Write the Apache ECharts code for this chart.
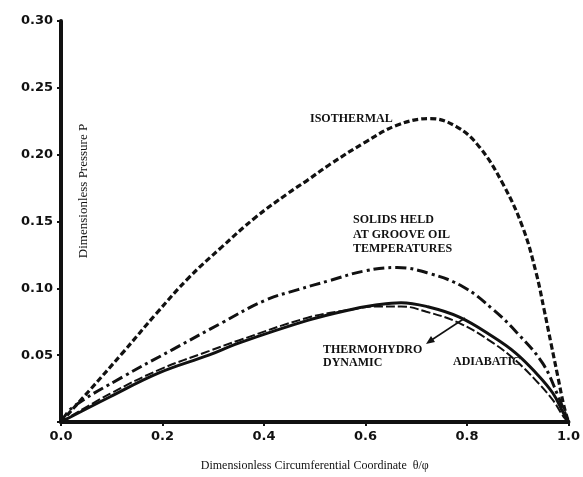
<!DOCTYPE html>
<html lang="en">

<head>
    <meta http-equiv="content-type" content="txt/html; charset=utf-8"/>
    <title>Dimensionless Pressure</title>
    <script src="https://cdn.jsdelivr.net/npm/echarts@6.0.0/dist/echarts.min.js"></script>
    <style>
        html, body {
            height: 100%;
            margin: 0;
            background: #fff;
        }

        .chart {
            width: 583px;
            height: 477px;
        }
    </style>
</head>

<body>
<div class="chart"></div>
<script>
    // curves: [theta/phi, P]
    const isothermal = [[0, 0], [0.057, 0.024], [0.121, 0.0515], [0.1875, 0.081], [0.252, 0.108], [0.316, 0.1306],
        [0.383, 0.153], [0.447, 0.171], [0.486, 0.181], [0.531, 0.193], [0.598, 0.209], [0.662, 0.222],
        [0.727, 0.227], [0.779, 0.221], [0.824, 0.206], [0.871, 0.178], [0.910, 0.1455], [0.936, 0.112],
        [0.952, 0.084], [0.966, 0.058], [0.979, 0.034], [0.991, 0.012], [1, 0]];
    const solidsHeld = [[0, 0], [0.023, 0.011], [0.121, 0.0336], [0.219, 0.054], [0.316, 0.074], [0.402, 0.091],
        [0.467, 0.099], [0.531, 0.106], [0.598, 0.113], [0.662, 0.1156], [0.727, 0.111], [0.793, 0.101],
        [0.852, 0.084], [0.898, 0.067], [0.949, 0.044], [0.98, 0.019], [1, 0]];
    const thermohydro = [[0, 0], [0.096, 0.0187], [0.193, 0.0367], [0.291, 0.050], [0.35, 0.059], [0.486, 0.076],
        [0.57, 0.084], [0.62, 0.0875], [0.67, 0.0893], [0.72, 0.0865], [0.785, 0.0785], [0.852, 0.0636],
        [0.896, 0.0516], [0.936, 0.0367], [0.969, 0.0217], [0.99, 0.0067], [1, 0]];
    const adiabatic = [[0, 0], [0.096, 0.021], [0.193, 0.039], [0.291, 0.053], [0.35, 0.061], [0.486, 0.078],
        [0.57, 0.084], [0.62, 0.0865], [0.67, 0.0865], [0.72, 0.0825], [0.785, 0.074], [0.852, 0.059],
        [0.896, 0.046], [0.936, 0.031], [0.969, 0.0165], [0.99, 0.004], [1, 0]];

    const ink = "#111";
    const labelFont = "bold 12px 'Liberation Serif', serif";

    const chart = echarts.init(document.querySelector(".chart"), null, {renderer: "canvas"});

    function note(x, y, text, lh) {
        return {
            type: "text",
            left: x,
            top: y,
            style: {text: text, font: labelFont, fill: ink, lineHeight: lh || 14}
        };
    }

    let option = {
        animation: false,
        backgroundColor: "#fff",
        grid: {left: 61, right: 10, top: 21, bottom: 55},
        xAxis: {
            type: "value",
            min: 0,
            max: 1,
            interval: 0.2,
            name: "Dimensionless Circumferential Coordinate  θ/φ",
            nameLocation: "middle",
            nameGap: 38,
            nameTextStyle: {color: ink, fontFamily: "Liberation Serif", fontSize: 12},
            axisLine: {lineStyle: {color: ink, width: 4}},
            axisTick: {length: 4, lineStyle: {color: ink, width: 2}},
            axisLabel: {
                color: ink, fontFamily: "DejaVu Sans", fontWeight: "bold", fontSize: 13, margin: 8,
                formatter: v => v.toFixed(1)
            },
            splitLine: {show: false}
        },
        yAxis: {
            type: "value",
            min: 0,
            max: 0.3,
            interval: 0.05,
            axisLine: {show: true, lineStyle: {color: ink, width: 4}},
            axisTick: {show: true, length: 4, lineStyle: {color: ink, width: 2}},
            axisLabel: {
                color: ink, fontFamily: "DejaVu Sans", fontWeight: "bold", fontSize: 13, margin: 8,
                formatter: v => v === 0 ? "" : v.toFixed(2)
            },
            splitLine: {show: false}
        },
        graphic: [
            {
                type: "text",
                x: 84,
                y: 191,
                rotation: Math.PI / 2,
                style: {
                    text: "Dimensionless Pressure P", font: "13px 'Liberation Serif', serif", fill: ink,
                    textAlign: "center", textVerticalAlign: "middle"
                }
            },
            note(310, 112, "ISOTHERMAL"),
            note(353, 213, "SOLIDS HELD\nAT GROOVE OIL\nTEMPERATURES", 14.5),
            note(323, 343, "THERMOHYDRO\nDYNAMIC", 13),
            note(453, 355, "ADIABATIC"),
            {
                type: "line",
                shape: {x1: 465, y1: 318, x2: 430, y2: 341},
                style: {stroke: ink, lineWidth: 1.5}
            },
            {
                type: "polygon",
                shape: {points: [[426, 344], [431, 336], [435, 342]]},
                style: {fill: ink}
            }
        ],
        series: [
            {
                name: "Isothermal", type: "line", smooth: 0.4, symbol: "none", data: isothermal,
                lineStyle: {color: ink, width: 3.2, type: [6, 3]}
            },
            {
                name: "Solids held at groove oil temperatures", type: "line", smooth: 0.4, symbol: "none",
                data: solidsHeld, lineStyle: {color: ink, width: 3, type: [11, 4, 3, 4]}
            },
            {
                name: "Thermohydrodynamic", type: "line", smooth: 0.4, symbol: "none", data: thermohydro,
                lineStyle: {color: ink, width: 3}
            },
            {
                name: "Adiabatic", type: "line", smooth: 0.4, symbol: "none", data: adiabatic,
                lineStyle: {color: ink, width: 2, type: [9, 3]}
            }
        ]
    };
    chart.setOption(option);
</script>
</body>

</html>
